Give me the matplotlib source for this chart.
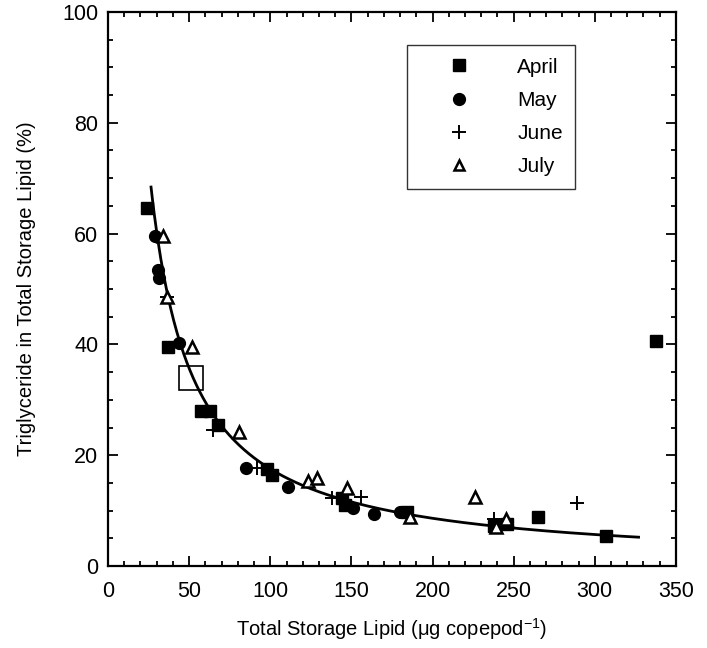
import numpy as np
import matplotlib
matplotlib.use("Agg")
import matplotlib.pyplot as plt
from matplotlib.ticker import MultipleLocator
from matplotlib.lines import Line2D

plt.rcParams['font.family'] = ['Liberation Sans', 'DejaVu Sans']
plt.rcParams['mathtext.default'] = 'regular'

# storage lipid (ug per copepod) vs triglyceride share (%)
april_x = [24, 37, 57, 63, 68, 98, 101, 144, 146, 184, 238, 246, 265, 307, 338]
april_y = [64.6, 39.5, 28, 28, 25.5, 17.5, 16.4, 12.3, 11, 9.8, 7.2, 7.5, 8.8, 5.4, 40.6]

may_x = [29, 31, 31.5, 44, 85, 111, 151, 164, 180]
may_y = [59.6, 53.4, 52, 40.2, 17.7, 14.3, 10.5, 9.4, 9.8]

june_x = [36.4, 65, 92, 138, 156, 238, 289]
june_y = [48.6, 24.5, 17.7, 12.3, 12.5, 8.5, 11.4]

july_x = [34, 36.4, 52, 81, 123, 129, 147, 186, 226, 239, 245]
july_y = [59.6, 48.6, 39.5, 24.2, 15.3, 15.9, 14, 8.8, 12.5, 7, 8.5]

mean_x = [51]
mean_y = [34]

# power fit y = a * x^b
fit_a = 68.4 * 26.5 ** 1.025
fit_b = -1.025
fit_range = [26.5, 327]

fig = plt.figure(figsize=(7.07, 6.48), dpi=100)
ax = fig.add_axes([0.1528, 0.1265, 0.8032, 0.855])

xs = np.linspace(fit_range[0], fit_range[1], 300)
ax.plot(xs, fit_a * xs ** fit_b, color='black', lw=2.0, zorder=2)

ax.plot(april_x, april_y, ls='none', marker='s', ms=9, color='black', zorder=3)
ax.plot(may_x, may_y, ls='none', marker='o', ms=8.5, color='black', zorder=3)
ax.plot(june_x, june_y, ls='none', marker='+', ms=10, mew=1.4, color='black', zorder=3)
ax.plot(july_x, july_y, ls='none', marker='^', ms=8, mew=1.8, mfc='white', mec='black', zorder=4)
ax.plot(mean_x, mean_y, ls='none', marker='s', ms=17, mew=1.2, mfc='none', mec='black', zorder=4)

ax.set_xlim(0, 350)
ax.set_ylim(0, 100)
ax.xaxis.set_major_locator(MultipleLocator(50))
ax.xaxis.set_minor_locator(MultipleLocator(10))
ax.yaxis.set_major_locator(MultipleLocator(20))
ax.yaxis.set_minor_locator(MultipleLocator(5))
ax.tick_params(which='both', direction='in', top=True, right=True, width=1.3)
ax.tick_params(which='major', length=7, labelsize=15.5)
ax.tick_params(axis='x', which='major', pad=11)
ax.tick_params(axis='y', which='major', pad=7)
ax.tick_params(which='minor', length=3.5)
for s in ax.spines.values():
    s.set_linewidth(1.6)

ax.set_xlabel('Total Storage Lipid (\u03bcg copepod$^{-1}$)', fontsize=14.5, labelpad=10)
ax.set_ylabel('Triglyceride in Total Storage Lipid (%)', fontsize=14.5, labelpad=19)

handles = [
    Line2D([], [], ls='none', marker='s', ms=9, color='black'),
    Line2D([], [], ls='none', marker='o', ms=8.5, color='black'),
    Line2D([], [], ls='none', marker='+', ms=10, mew=1.4, color='black'),
    Line2D([], [], ls='none', marker='^', ms=7, mew=1.8, mfc='white', mec='black'),
]
leg = ax.legend(handles, ['April', 'May', 'June', 'July'], loc='upper left',
                bbox_to_anchor=(0.526, 0.94), fontsize=15, frameon=True,
                fancybox=False, edgecolor='black', borderpad=0.6,
                labelspacing=0.68, handletextpad=0.9, handlelength=3.8,
                borderaxespad=0)
leg.get_frame().set_linewidth(1.0)

fig.savefig('out.png', dpi=100)
